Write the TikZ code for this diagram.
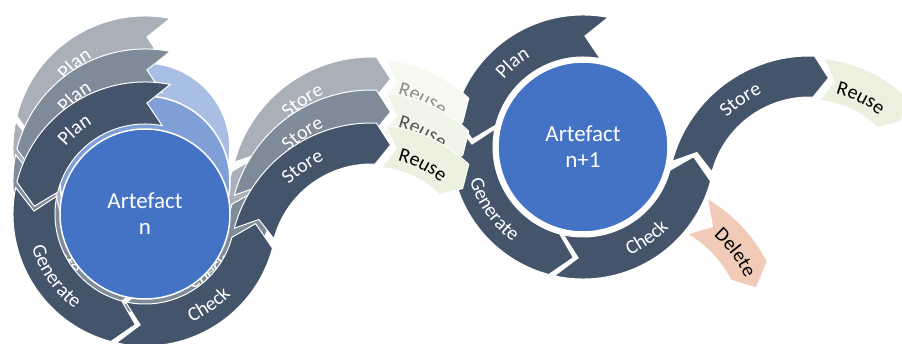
\documentclass[tikz,border=0pt]{standalone}
\usepackage{fontspec}
\setmainfont{Carlito}
\usepackage{tikz}
\usetikzlibrary{calc}
\usetikzlibrary{decorations,decorations.text}
\definecolor{slate}{HTML}{44546A}
\definecolor{artblue}{HTML}{4472C4}
\definecolor{reusegreen}{HTML}{EBF1DE}
\definecolor{deletepink}{HTML}{F2CAB8}
\tikzstyle{outline}=[draw=white, line width=1pt]
\tikzstyle{artefact}=[circle, draw=white, line width=1.5pt, minimum size=170pt, inner sep=0pt, align=center, text=white, font=\fontsize{23}{26}\selectfont]
\newcommand{\arcArrow}[7]{
	\pgfmathsetmacro{\rmid}{(#3+#4)/2}
	\begin{scope}[shift={#2}]
		\draw[outline, #1] (#5:#4pt) arc[start angle=#5, end angle=#6, radius=#4pt] -- ({#6+#7}:\rmid pt) -- (#6:#3pt) arc[start angle=#6, end angle=#5, radius=#3pt] -- ({#5+#7}:\rmid pt) -- cycle;
	\end{scope}
}
\newcommand{\arcLabel}[6]{
	\begin{scope}[shift={#1}]
		\path[decorate, decoration={text along path, text align=center, text={|\fontsize{20}{20}\selectfont\color{#5}|#6}}] (#3:#2pt) arc[start angle=#3, end angle=#4, radius=#2pt];
	\end{scope}
}
\newcommand{\artefactCycle}[5]{
	\arcArrow{fill=slate!#3!white}{(#1,#2)}{90}{132}{79}{166}{10}
	\arcArrow{fill=slate!#3!white}{(#1,#2)}{90}{132}{168.5}{255}{10}
	\arcArrow{fill=slate!#3!white}{(#1,#2)}{90}{132}{257.5}{345}{10}
	\arcArrow{fill=slate!#3!white}{({#1+226.5},{#2-51})}{101}{142}{165}{88}{-7}
	\arcArrow{fill=reusegreen!#3!white}{({#1+226.5},{#2-51})}{98}{140}{84}{46}{-6}
	\node[artefact, fill=artblue!#3!white] (#4) at (#1,#2) {#5};
	\arcLabel{(#1,#2)}{104}{170}{90}{white}{Plan}
	\arcLabel{(#1,#2)}{118}{170}{260}{white}{Generate}
	\arcLabel{(#1,#2)}{118}{260}{350}{white}{Check}
	\arcLabel{({#1+226.5},{#2-51})}{115}{165}{85}{white}{Store}
	\arcLabel{({#1+226.5},{#2-51})}{108}{90}{36}{black!#3!white}{Reuse}
}

\begin{document}
\begin{tikzpicture}[x=1pt, y=1pt]
	\useasboundingbox (0,0) rectangle (902,343);
	\clip (0,0) rectangle (902,343);
	\artefactCycle{583}{196}{100}{artNext}{Artefact\\n+1}
	\arcArrow{fill=deletepink}{(631,12)}{112}{153}{60}{27}{-8}
	\arcLabel{(631,12)}{126}{60}{14}{black}{Delete}
	\artefactCycle{145}{195}{46}{ghostTop}{}
	\artefactCycle{145}{162}{68}{ghostMid}{}
	\artefactCycle{145}{129}{100}{artN}{Artefact\\n}
\end{tikzpicture}
\end{document}
